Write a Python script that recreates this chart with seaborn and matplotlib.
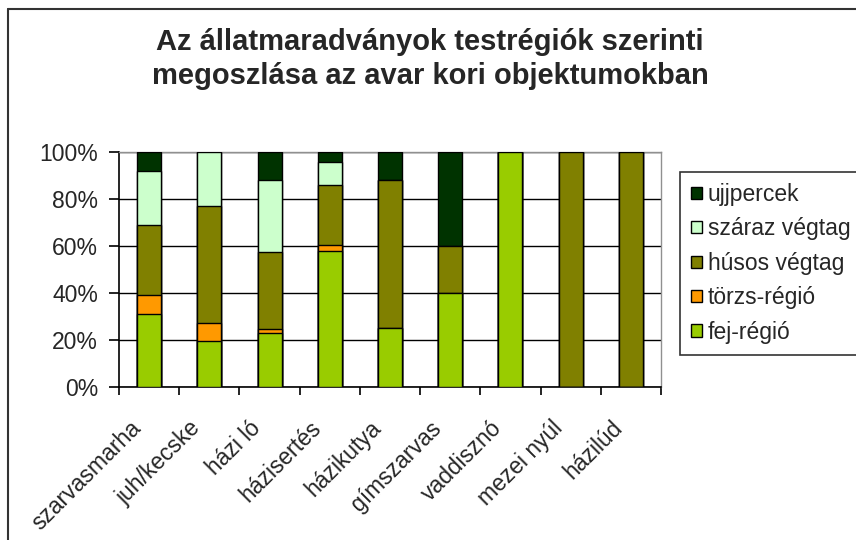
import numpy as np
import pandas as pd
import matplotlib
matplotlib.use("Agg")
import matplotlib.pyplot as plt
from matplotlib.lines import Line2D
from matplotlib.patches import Patch
from matplotlib.ticker import FixedLocator, FuncFormatter
from matplotlib.transforms import ScaledTranslation
import seaborn as sns

# Animal remains by body region (percent of each species)
categories = ["szarvasmarha", "juh/kecske", "házi ló", "házisertés", "házikutya",
              "gímszarvas", "vaddisznó", "mezei nyúl", "házilúd"]
fej_regio = [31, 19.5, 23, 58, 25, 40, 100, 0, 0]
torzs_regio = [8, 7.8, 1.5, 2.5, 0, 0, 0, 0, 0]
husos_vegtag = [30, 49.8, 33, 25.5, 63, 20, 0, 100, 100]
szaraz_vegtag = [23, 22.9, 30.5, 10, 0, 0, 0, 0, 0]
ujjpercek = [8, 0, 12, 4, 12, 40, 0, 0, 0]

series_names = ["fej-régió", "törzs-régió", "húsos végtag", "száraz végtag", "ujjpercek"]
series_values = [fej_regio, torzs_regio, husos_vegtag, szaraz_vegtag, ujjpercek]
series_colors = ["#99CC00", "#FF9900", "#808000", "#CCFFCC", "#003300"]

title_text = "Az állatmaradványok testrégiók szerinti\nmegoszlása az avar kori objektumokban"

sns.set_style("white")
plt.rcParams["font.family"] = ["Liberation Sans", "DejaVu Sans"]

W, H = 856, 540
fig = plt.figure(figsize=(W / 100, H / 100), dpi=100)
ax = fig.add_axes([119 / W, 1 - 386.7 / H, (661 - 119) / W, (386.7 - 152.3) / H])

df = pd.DataFrame({"kategoria": categories})
cum = np.zeros(len(categories))
tops = []
for vals in series_values:
    cum = cum + np.array(vals, dtype=float)
    tops.append(cum.copy())

# stacked bars: draw cumulative totals from the top layer downwards
for name, color, top in reversed(list(zip(series_names, series_colors, tops))):
    d = df.assign(ertek=top)
    sns.barplot(data=d, x="kategoria", y="ertek", color=color, width=0.4,
                edgecolor="black", linewidth=1.0, saturation=1, ax=ax, zorder=3)

ax.set_xlim(-0.5, len(categories) - 0.5)
ax.set_ylim(0, 100)
ax.set_xlabel("")
ax.set_ylabel("")

# gridlines and frame
ax.yaxis.set_major_locator(FixedLocator([0, 20, 40, 60, 80, 100]))
ax.yaxis.set_major_formatter(FuncFormatter(lambda v, p: f"{v:.0f}%"))
ax.grid(axis="y", color="black", linewidth=1.0, zorder=0)
ax.set_axisbelow(True)
for side in ["top", "right"]:
    ax.spines[side].set_color("#909090")
    ax.spines[side].set_linewidth(1.0)
for side in ["left", "bottom"]:
    ax.spines[side].set_color("black")
    ax.spines[side].set_linewidth(1.2)

ax.tick_params(axis="y", which="major", direction="out", length=7, width=1.2,
               color="black", labelsize=16.5, pad=8, left=True)
ax.tick_params(axis="x", which="major", length=0, labelsize=16.5, pad=8)
ax.xaxis.set_minor_locator(FixedLocator(np.arange(-0.5, len(categories), 1.0)))
ax.tick_params(axis="x", which="minor", direction="out", length=6, width=1.2,
               color="black", bottom=True)
ax.set_xticks(range(len(categories)))
ax.set_xticklabels(categories, rotation=45, ha="right", va="center",
                   rotation_mode="anchor")
shift = ScaledTranslation(-12 / 100, -27 / 100, fig.dpi_scale_trans)
for lab in ax.get_xticklabels():
    lab.set_transform(lab.get_transform() + shift)

# legend (top layer first)
handles = [Patch(facecolor=c, edgecolor="black", linewidth=1.0)
           for c in reversed(series_colors)]
leg = fig.legend(handles, list(reversed(series_names)), loc="upper left",
                 bbox_to_anchor=(680 / W, 1 - 171.5 / H), fontsize=16.5,
                 frameon=True, fancybox=False, edgecolor="black",
                 handlelength=0.45, handleheight=0.45, handletextpad=0.25,
                 labelspacing=0.5, borderpad=0.5, borderaxespad=0)
leg.get_frame().set_linewidth(1.2)

# title
fig.text(430 / W, 1 - 59 / H, title_text, ha="center", va="center",
         fontsize=21, fontweight="bold", linespacing=1.3)

# chart area border (top and left edges)
fig.add_artist(Line2D([8 / W, 1], [1 - 9 / H, 1 - 9 / H], color="#333333", lw=1.5))
fig.add_artist(Line2D([8 / W, 8 / W], [0, 1 - 9 / H], color="#333333", lw=1.5))

fig.savefig("out.png", dpi=100, facecolor="white")
